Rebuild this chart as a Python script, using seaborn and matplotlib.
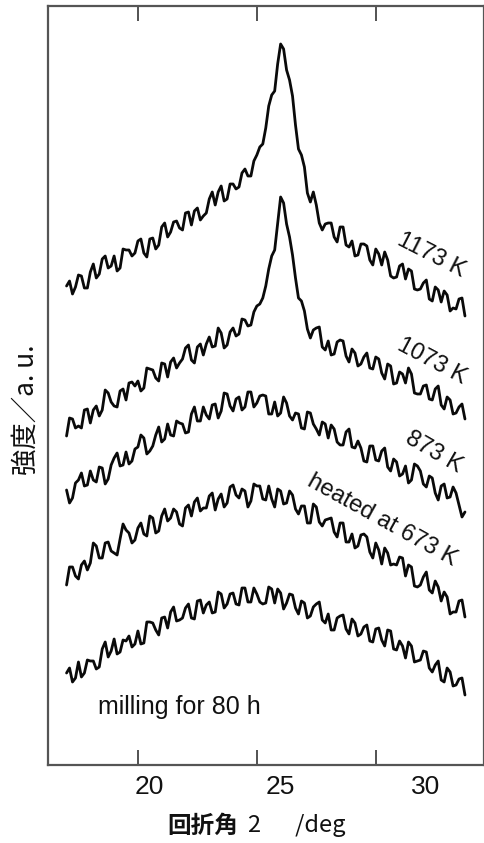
import numpy as np
import pandas as pd
import matplotlib
matplotlib.use("Agg")
import matplotlib.pyplot as plt
from matplotlib.transforms import ScaledTranslation
import seaborn as sns

# ---------------- data ----------------
two_theta = np.arange(17.0, 33.76, 0.125)   # deg, 135 samples

milling_80h = [92,97,83,87,103,88,92,105,104,104,96,98,116,123,108,114,126,111,113,125,
               124,129,118,121,134,121,122,143,143,142,135,130,147,148,137,153,158,144,145,147,
               157,161,147,146,164,165,152,160,163,152,153,173,171,157,161,171,172,161,160,177,
               177,163,163,177,171,163,161,162,178,176,162,176,172,156,162,171,170,157,151,164,
               162,147,149,158,161,163,145,142,151,135,135,147,149,150,136,131,146,142,129,131,
               138,140,124,123,136,137,125,119,135,134,116,115,124,119,107,123,119,103,104,105,
               114,113,97,93,100,104,85,83,97,93,79,80,86,87,70]
heated_673 = [180,198,198,189,186,200,204,195,202,222,219,207,207,222,223,214,212,210,226,241,
              235,232,222,225,237,242,231,229,249,247,232,234,249,256,244,247,256,253,241,239,
              257,260,249,263,267,254,257,257,269,272,255,266,271,258,262,278,280,270,267,276,
              274,258,264,281,279,279,266,265,279,266,258,276,274,261,262,274,270,256,251,259,
              259,242,242,261,258,243,239,245,246,247,233,228,242,242,223,223,231,217,219,230,
              231,228,213,207,222,215,201,217,212,200,201,200,208,207,189,200,198,179,178,180,
              188,193,175,172,184,178,164,173,168,151,153,153,164,165,148]
heated_873 = [275,262,267,282,285,292,279,280,294,285,283,298,297,281,286,300,307,312,299,300,
              313,301,304,316,318,330,327,311,314,319,330,338,323,326,341,330,329,344,342,341,
              332,333,351,358,344,344,358,350,346,360,361,347,354,372,371,359,354,366,368,355,
              358,373,373,358,362,369,370,369,351,351,363,349,352,368,362,349,345,352,351,337,
              336,353,352,341,336,330,343,341,327,340,336,323,320,320,333,336,318,317,324,317,
              304,303,319,319,305,304,314,317,298,294,306,303,289,291,299,282,285,301,299,294,
              281,278,289,287,272,265,279,281,267,268,278,272,260,248,253]
heated_1073 = [329,347,346,337,339,337,355,356,342,355,359,349,355,375,372,363,359,358,374,376,
               365,382,383,379,384,374,377,397,396,395,387,384,402,401,388,403,407,397,402,406,
               417,420,405,402,418,421,410,421,428,418,419,437,432,417,420,433,437,429,431,446,
               445,439,440,453,459,461,467,479,496,509,515,542,568,562,541,528,510,487,467,464,
               454,436,427,435,437,438,418,415,424,410,411,423,425,424,409,403,416,412,399,401,
               408,412,397,396,408,406,392,386,401,399,381,382,393,391,382,397,391,372,371,371,
               379,380,366,365,376,379,360,356,368,365,351,352,358,361,346]
heated_1173 = [479,484,471,478,490,489,477,477,493,501,487,491,506,509,497,499,509,494,497,516,
               515,515,509,512,524,526,512,508,526,527,516,520,538,542,528,533,543,544,537,535,
               552,553,540,554,557,545,549,552,566,573,560,573,579,564,566,581,581,576,578,592,
               596,589,589,604,610,618,621,637,659,670,674,701,721,716,695,685,669,640,616,610,
               598,572,563,573,560,542,535,541,542,542,528,523,538,538,520,518,524,509,510,521,
               521,519,505,500,516,511,500,513,505,489,487,488,499,501,486,496,494,476,475,476,
               482,485,466,464,478,475,463,474,470,454,457,456,466,467,449]

series_names = ["milling for 80 h", "heated at 673 K", "873 K", "1073 K", "1173 K"]
series_values = [milling_80h, heated_673, heated_873, heated_1073, heated_1173]
x_ticks = [20, 25, 30]
x_tick_labels = ["20", "25", "30"]

for name, vals in zip(series_names, series_values):
    if len(vals) != len(two_theta):
        raise ValueError(f"{name}: {len(vals)} values vs {len(two_theta)} angles")

df = pd.concat(
    [pd.DataFrame({"two_theta": two_theta, "intensity": vals, "sample": name})
     for name, vals in zip(series_names, series_values)],
    ignore_index=True,
)

# ---------------- style ----------------
sns.set_style("ticks")
plt.rcParams["font.family"] = ["Liberation Sans", "Noto Sans CJK JP", "DejaVu Sans"]

fig = plt.figure(figsize=(4.85, 8.43), dpi=100)
ax = fig.add_axes([48/485, 78/843, 436/485, 759/843])

sns.lineplot(data=df, x="two_theta", y="intensity", units="sample", estimator=None,
             sort=False, color="#0a0a0a", linewidth=2.0, legend=False, ax=ax)

ax.set_xlim(16.22, 34.55)
ax.set_ylim(0, 759)
ax.set_yticks([])
ax.set_xticks(x_ticks)
ax.set_xticklabels(x_tick_labels)
for s in ax.spines.values():
    s.set_color("#555555")
    s.set_linewidth(1.6)
ax.tick_params(axis="x", direction="in", top=True, bottom=True, length=11, width=1.3,
               color="#444444", labelsize=19, pad=7, labelcolor="#111111")

# tick labels in the reference sit to the right of their tick marks
shifts_px = [11, 23, 50]
for lab, dx in zip(ax.get_xticklabels(), shifts_px):
    lab.set_transform(lab.get_transform() + ScaledTranslation(dx/100, 0, fig.dpi_scale_trans))

# axis labels
cjk = ["Noto Sans CJK JP", "DejaVu Sans"]
ax.set_xlabel("回折角", fontsize=17, fontweight="bold", family=cjk, color="#111111")
ax.xaxis.set_label_coords((203-48)/436, -0.064)
ax.text((248-48)/436, -0.064, "2\u3000  /deg", transform=ax.transAxes, ha="left", va="top",
        fontsize=17, family=cjk, color="#111111")

ax.set_ylabel("強度／a. u.", fontsize=19, family=cjk, color="#111111")
ax.yaxis.set_label_coords(-0.02, 0.468)

# curve annotations
ann_kw = dict(ha="center", va="center", rotation_mode="anchor", color="#111111")
ax.text(32.35, 510, "1173 K", rotation=-27, fontsize=17, **ann_kw)
ax.text(32.35, 404, "1073 K", rotation=-28, fontsize=17, **ann_kw)
ax.text(32.44, 313, "873 K", rotation=-30, fontsize=17, **ann_kw)
ax.text(30.25, 245, "heated at 673 K", rotation=-29, fontsize=17, **ann_kw)
ax.text(21.76, 58, "milling for 80 h", rotation=0, fontsize=18, **ann_kw)

fig.savefig("out.png", dpi=100)
